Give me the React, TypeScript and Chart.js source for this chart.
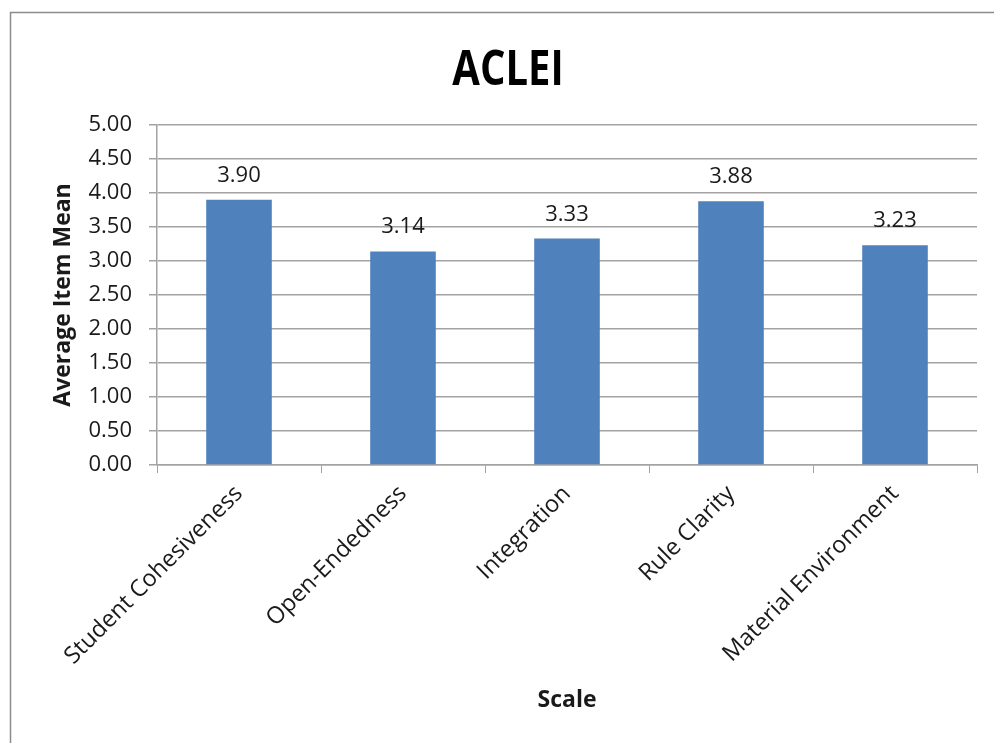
import React, { useEffect, useRef } from "react";
import { Chart, registerables } from "chart.js";

Chart.register(...registerables);

const chartTitle = "ACLEI";
const categories = [
  "Student Cohesiveness",
  "Open-Endedness",
  "Integration",
  "Rule Clarity",
  "Material Environment",
];
const values = [3.9, 3.14, 3.33, 3.88, 3.23];
const yAxisTitle = "Average Item Mean";
const xAxisTitle = "Scale";
const yMin = 0;
const yMax = 5;
const yStep = 0.5;

const FONT = '"Open Sans", "Liberation Sans", sans-serif';
const GRID = "#a3a3a3";
const TEXT = "#1a1a1a";
const BAR = "#4f81bd";

export default function App() {
  const ref = useRef<HTMLCanvasElement | null>(null);

  useEffect(() => {
    if (!ref.current) return;

    const decorPlugin = {
      id: "decor",
      beforeDraw(chart: any) {
        const ctx = chart.ctx;
        ctx.save();
        ctx.fillStyle = "#ffffff";
        ctx.fillRect(0, 0, chart.width, chart.height);
        ctx.strokeStyle = "#8c8c8c";
        ctx.lineWidth = 1.5;
        ctx.strokeRect(10.5, 12.5, 1200, 1200);
        ctx.restore();
      },
      afterDraw(chart: any) {
        const ctx = chart.ctx;
        ctx.save();
        ctx.fillStyle = "#000000";
        ctx.font = `bold 40px ${FONT}`;
        ctx.textAlign = "center";
        ctx.textBaseline = "alphabetic";
        ctx.translate(508, 85);
        ctx.scale(1, 1.2);
        ctx.fillText(chartTitle, 0, 0);
        ctx.restore();
      },
      afterDatasetsDraw(chart: any) {
        const ctx = chart.ctx;
        const meta = chart.getDatasetMeta(0);
        ctx.save();
        ctx.fillStyle = TEXT;
        ctx.font = `22px ${FONT}`;
        ctx.textAlign = "center";
        ctx.textBaseline = "alphabetic";
        meta.data.forEach((el: any, i: number) => {
          const v = chart.data.datasets[0].data[i] as number;
          ctx.fillText(v.toFixed(2), el.x, el.y - 18);
        });
        ctx.restore();
      },
    };

    const chart = new Chart(ref.current, {
      type: "bar",
      data: {
        labels: categories,
        datasets: [
          {
            data: values,
            backgroundColor: BAR,
            borderWidth: 0,
            barPercentage: 0.4,
            categoryPercentage: 1,
          },
        ],
      },
      options: {
        animation: false,
        responsive: false,
        maintainAspectRatio: false,
        layout: { padding: { left: 40, right: 17, top: 125, bottom: 0 } },
        plugins: {
          legend: { display: false },
          title: { display: false },
          tooltip: { enabled: false },
        },
        scales: {
          x: {
            grid: {
              display: true,
              offset: true,
              drawOnChartArea: false,
              drawTicks: true,
              tickLength: 8,
              color: GRID,
            },
            border: { display: true, color: GRID, width: 1.5 },
            ticks: {
              autoSkip: false,
              minRotation: 45,
              maxRotation: 45,
              padding: 7,
              color: TEXT,
              font: { family: FONT, size: 23.5 },
            },
            title: {
              display: true,
              text: xAxisTitle,
              color: TEXT,
              font: { family: FONT, size: 23, weight: "bold" },
              padding: { top: 0, bottom: 29 },
            },
            afterFit(scale: any) {
              scale.height = 743 - 465;
            },
          },
          y: {
            min: yMin,
            max: yMax,
            grid: {
              color: GRID,
              lineWidth: 1.5,
              tickLength: 8,
              drawTicks: true,
            },
            border: { display: true, color: GRID, width: 1.5 },
            ticks: {
              stepSize: yStep,
              padding: 17,
              color: TEXT,
              font: { family: FONT, size: 22 },
              callback: (v: any) => Number(v).toFixed(2),
            },
            title: {
              display: true,
              text: yAxisTitle,
              color: TEXT,
              font: { family: FONT, size: 23, weight: "bold" },
              padding: { top: 10, bottom: 0 },
            },
            afterFit(scale: any) {
              scale.width = 157 - 40;
            },
          },
        },
      },
      plugins: [decorPlugin],
    });

    return () => chart.destroy();
  }, []);

  return (
    <div style={{ position: "fixed", left: 0, top: 0, width: 994, height: 743, background: "#fff" }}>
      <canvas ref={ref} width={994} height={743} style={{ display: "block", width: 994, height: 743 }} />
    </div>
  );
}
